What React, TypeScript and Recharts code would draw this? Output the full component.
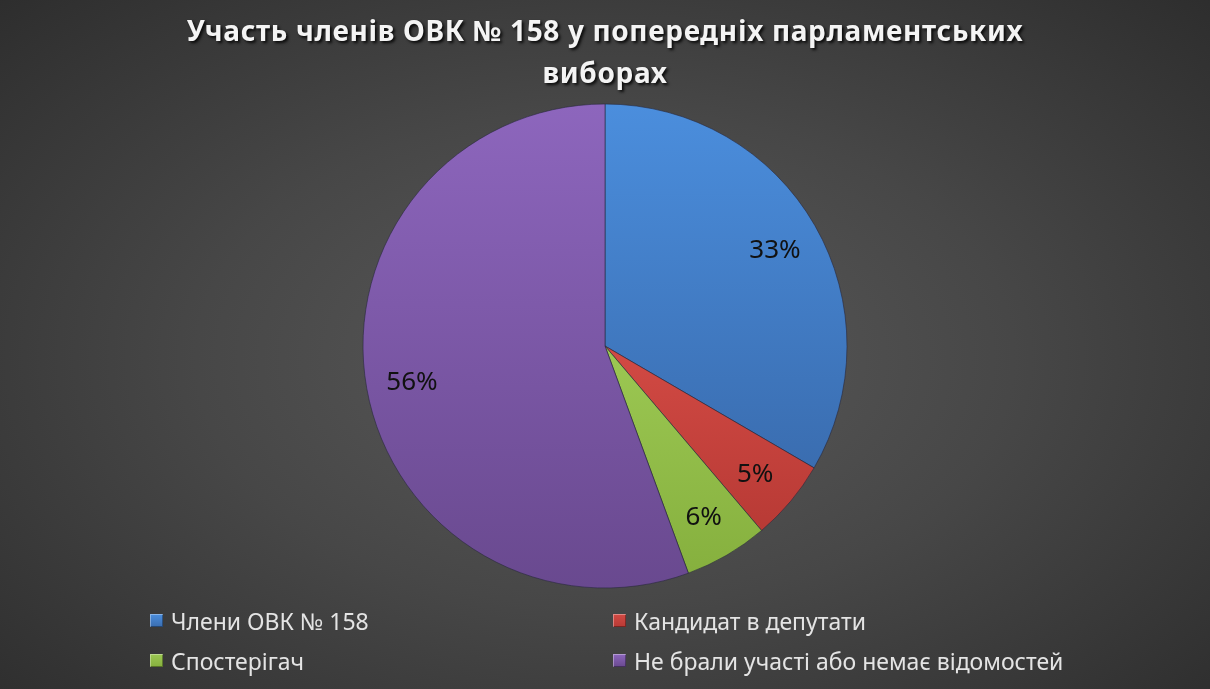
import React from "react";
import { PieChart, Pie, Cell } from "recharts";

// Values (shares of members, %).
const categories = [
  "Члени ОВК № 158",
  "Кандидат в депутати",
  "Спостерігач",
  "Не брали участі або немає відомостей",
];
const shares = [33.4, 5.4, 5.6, 55.6];
const shareLabels = ["33%", "5%", "6%", "56%"];

const titleLines = ["Участь членів ОВК № 158 у попередніх парламентських", "виборах"];

// top / bottom tones for each slice gradient
const sliceTop = ["#4b8edd", "#d24a44", "#9cc853", "#8d66bd"];
const sliceBottom = ["#3a6db0", "#b83a35", "#86b03e", "#69498f"];
const ids = ["gBlue", "gRed", "gGreen", "gPurple"];

const data = categories.map((name, i) => ({ name, value: shares[i], label: shareLabels[i] }));

const FONT = '"Noto Sans", "Open Sans", sans-serif';
const RAD = Math.PI / 180;

function SliceLabel(props: any) {
  const { cx, cy, midAngle, outerRadius, index } = props;
  const r = outerRadius * 0.81;
  const x = cx + r * Math.cos(-midAngle * RAD);
  const y = cy + r * Math.sin(-midAngle * RAD);
  return (
    <text
      x={x}
      y={y}
      textAnchor="middle"
      dominantBaseline="central"
      fill="#111"
      fontSize={26}
      fontFamily={FONT}
    >
      {data[index].label}
    </text>
  );
}

// legend drawn from the same arrays, in series order (two columns)
function LegendBox() {
  return (
    <div
      style={{
        position: "absolute",
        left: 150,
        top: 605,
        display: "grid",
        gridTemplateColumns: "463px 470px",
        rowGap: 9,
        fontFamily: FONT,
        fontSize: 23,
        color: "#e4e4e4",
      }}
    >
      {categories.map((name, i) => (
        <div key={name} style={{ display: "flex", alignItems: "center", height: 31 }}>
          <span
            style={{
              display: "inline-block",
              width: 13,
              height: 13,
              marginRight: 8,
              background: `linear-gradient(${sliceTop[i]}, ${sliceBottom[i]})`,
              boxShadow: "inset 1px 1px 0 rgba(255,255,255,0.35), inset -1px -1px 0 rgba(0,0,0,0.35)",
            }}
          />
          <span>{name}</span>
        </div>
      ))}
    </div>
  );
}

export default function App() {
  return (
    <div
      style={{
        position: "fixed",
        left: 0,
        top: 0,
        width: 1210,
        height: 689,
        overflow: "hidden",
        background: "radial-gradient(ellipse 75% 80% at 50% 52%, #5a5a5a 0%, #474747 45%, #2a2a2a 100%)",
      }}
    >
      <svg width={0} height={0} style={{ position: "absolute" }}>
        <defs>
          {ids.map((id, i) => (
            <linearGradient key={id} id={id} x1="0" y1="0" x2="0" y2="1">
              <stop offset="0%" stopColor={sliceTop[i]} />
              <stop offset="100%" stopColor={sliceBottom[i]} />
            </linearGradient>
          ))}
        </defs>
      </svg>

      <div
        style={{
          position: "absolute",
          left: 0,
          top: 9,
          width: 1210,
          textAlign: "center",
          fontFamily: FONT,
          fontWeight: 700,
          fontSize: 28,
          lineHeight: "42px",
          letterSpacing: 0.65,
          color: "#f4f4f4",
          textShadow: "2px 2px 3px rgba(0,0,0,0.85)",
        }}
      >
        {titleLines.map((t) => (
          <div key={t}>{t}</div>
        ))}
      </div>

      <PieChart
        width={1210}
        height={689}
        margin={{ top: 0, right: 0, bottom: 0, left: 0 }}
        style={{ position: "absolute", left: 0, top: 0 }}
      >
        <Pie
          data={data}
          dataKey="value"
          nameKey="name"
          cx={605}
          cy={346}
          outerRadius={242}
          startAngle={90}
          endAngle={-270}
          stroke="rgba(40,40,60,0.6)"
          strokeWidth={1}
          label={SliceLabel}
          labelLine={false}
          isAnimationActive={false}
        >
          {data.map((d, i) => (
            <Cell key={d.name} fill={`url(#${ids[i]})`} />
          ))}
        </Pie>
      </PieChart>

      <LegendBox />
    </div>
  );
}
